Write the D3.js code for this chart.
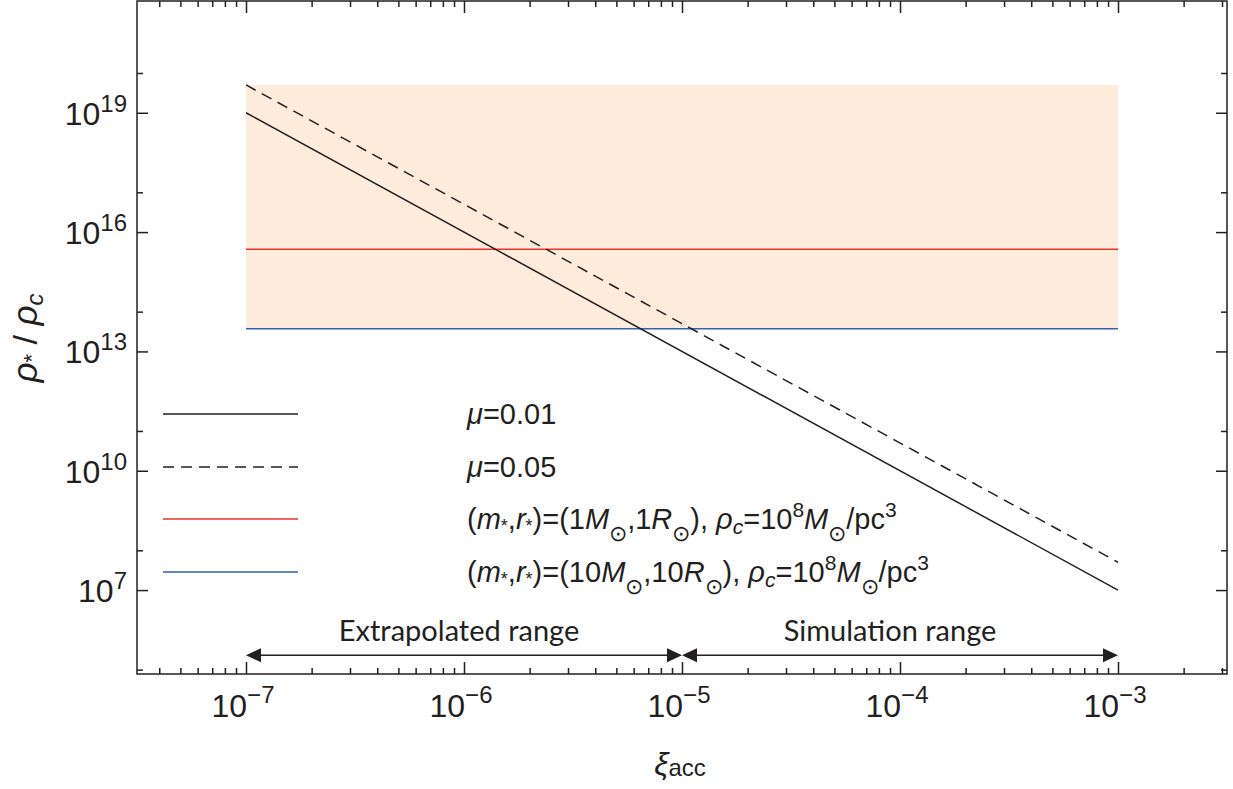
<!DOCTYPE html>
<html>
<head>
<meta charset="utf-8">
<script src="https://cdn.jsdelivr.net/npm/d3@7/dist/d3.min.js"></script>
<style>
  body { margin: 0; background: #fff; }
  svg { display: block; font-family: "Liberation Sans", Arial, sans-serif; }
</style>
</head>
<body>
<svg id="chart"></svg>
<script>
// ----------------------------------------- Data -----------------------------------------

// x ticks (exponents of 10)
var xMajorExp = [-7, -6, -5, -4, -3];
// y ticks (exponents of 10)
var yMajorExp = [7, 10, 13, 16, 19];
var yMinorExp = [5, 8, 11, 14, 17, 20];

// rho_* / rho_c against xi_acc, slope -3
var xiEnds = [1e-7, 1e-3];
var rhoMu001 = [1e19, 1e7];
var rhoMu005 = [5e19, 5e7];

// horizontal reference levels
var rhoSun = 3.7e15;     // (1 Msun, 1 Rsun)
var rhoTenSun = 3.7e13;  // (10 Msun, 10 Rsun)

// shaded band
var bandX = [1e-7, 1e-3];
var bandY = [3.7e13, 5e19];

// range arrows
var extrapRange = [1e-7, 1e-5];
var simRange = [1e-5, 1e-3];
var arrowLevel = 2.3e5;

// ----------------------------------------- Setup -----------------------------------------

var width = 1233;
var height = 789;
var padL = 137, padR = 1227, padT = 1, padB = 674;
var ink = '#231f20';

var svg = d3.select('#chart')
            .attr('width', width)
            .attr('height', height);

var xScale = d3.scaleLog()
               .domain([Math.pow(10, -7.5), Math.pow(10, -2.5)])
               .range([padL, padR]);

var yScale = d3.scaleLog()
               .domain([Math.pow(10, 4.89), Math.pow(10, 21.81)])
               .range([padB, padT]);

// ----------------------------------------- Shaded band -----------------------------------------

svg.append('rect')
    .attr('x', xScale(bandX[0]))
    .attr('y', yScale(bandY[1]))
    .attr('width', xScale(bandX[1]) - xScale(bandX[0]))
    .attr('height', yScale(bandY[0]) - yScale(bandY[1]))
    .attr('fill', '#fdecdc');

// ----------------------------------------- Lines -----------------------------------------

var line = d3.line()
             .x(d => xScale(d[0]))
             .y(d => yScale(d[1]));

svg.append('path')
    .datum([[bandX[0], rhoSun], [bandX[1], rhoSun]])
    .attr('d', line)
    .attr('fill', 'none')
    .attr('stroke', '#e8342c')
    .attr('stroke-width', 1.5);

svg.append('path')
    .datum([[bandX[0], rhoTenSun], [bandX[1], rhoTenSun]])
    .attr('d', line)
    .attr('fill', 'none')
    .attr('stroke', '#3461ad')
    .attr('stroke-width', 1.5);

svg.append('path')
    .datum(xiEnds.map((x, i) => [x, rhoMu001[i]]))
    .attr('d', line)
    .attr('fill', 'none')
    .attr('stroke', ink)
    .attr('stroke-width', 1.5);

svg.append('path')
    .datum(xiEnds.map((x, i) => [x, rhoMu005[i]]))
    .attr('d', line)
    .attr('fill', 'none')
    .attr('stroke', ink)
    .attr('stroke-width', 1.5)
    .attr('stroke-dasharray', '11,7');

// ----------------------------------------- Axes -----------------------------------------

var xMinor = [];
for (var e = -8; e <= -3; e++) {
  for (var k = 2; k <= 9; k++) {
    var v = k * Math.pow(10, e);
    if (v > xScale.domain()[0] && v < xScale.domain()[1]) xMinor.push(v);
  }
}
var xMajor = xMajorExp.map(e => Math.pow(10, e));
var yMajor = yMajorExp.map(e => Math.pow(10, e));
var yMinor = yMinorExp.map(e => Math.pow(10, e));

function addAxis(axis, tx, ty) {
  var g = svg.append('g')
     .attr('transform', `translate(${tx}, ${ty})`)
     .call(axis.tickFormat(''));
  g.select('.domain').remove();
  g.selectAll('line').attr('stroke', ink).attr('stroke-width', 1.5);
  return g;
}

addAxis(d3.axisBottom(xScale).tickValues(xMajor).tickSize(-12), 0, padB);
addAxis(d3.axisBottom(xScale).tickValues(xMinor).tickSize(-6), 0, padB);
addAxis(d3.axisTop(xScale).tickValues(xMajor).tickSize(-12), 0, padT);
addAxis(d3.axisTop(xScale).tickValues(xMinor).tickSize(-6), 0, padT);

addAxis(d3.axisLeft(yScale).tickValues(yMajor).tickSize(-11), padL, 0);
addAxis(d3.axisLeft(yScale).tickValues(yMinor).tickSize(-6), padL, 0);
addAxis(d3.axisLeft(yScale).tickValues(yMajor).tickSize(11), padR, 0);
addAxis(d3.axisLeft(yScale).tickValues(yMinor).tickSize(6), padR, 0);

// frame
svg.append('rect')
    .attr('x', padL)
    .attr('y', padT)
    .attr('width', padR - padL)
    .attr('height', padB - padT)
    .attr('fill', 'none')
    .attr('stroke', ink)
    .attr('stroke-width', 1.5);

// ----------------------------------------- Rich text helper -----------------------------------------

// parts: [text, italic, fontSize, shift]  (shift in px, positive = down)
function richText(parent, x, y, parts, anchor) {
  var t = parent.append('text')
      .attr('x', x)
      .attr('y', y)
      .attr('fill', ink)
      .attr('text-anchor', anchor || 'start');
  var cur = 0;
  parts.forEach(function(p) {
    var shift = p[3] || 0;
    t.append('tspan')
      .attr('dy', shift - cur)
      .attr('font-size', p[2])
      .attr('font-style', p[1] ? 'italic' : 'normal')
      .text(p[0]);
    cur = shift;
  });
  return t;
}

// tick labels
xMajorExp.forEach(function(e) {
  richText(svg, xScale(Math.pow(10, e)) - 3, 717,
    [['10', false, 32], ['\u2212' + Math.abs(e), false, 24, -14]], 'middle');
});

yMajorExp.forEach(function(e) {
  richText(svg, 127, yScale(Math.pow(10, e)) + 12,
    [['10', false, 32], [String(e), false, 24, -13]], 'end');
});

// axis titles
richText(svg, 680, 775,
  [['\u03be', true, 32], ['acc', false, 24, 1]], 'middle');

var yTitle = svg.append('g')
    .attr('transform', 'translate(37, 338) rotate(-90)');
richText(yTitle, 0, 0,
  [['\u03c1', true, 35], ['*', false, 22, 2], [' / ', false, 34, 0], ['\u03c1', true, 35], ['c', true, 24, 6]], 'middle');

// ----------------------------------------- Legend -----------------------------------------

var legendY = [414, 467, 519, 572];
var legendStyle = [
  { color: ink, dash: null },
  { color: ink, dash: '11,7' },
  { color: '#e8342c', dash: null },
  { color: '#3461ad', dash: null }
];

legendY.forEach(function(y, i) {
  svg.append('line')
      .attr('x1', 163).attr('x2', 298)
      .attr('y1', y).attr('y2', y)
      .attr('stroke', legendStyle[i].color)
      .attr('stroke-width', 1.5)
      .attr('stroke-dasharray', legendStyle[i].dash);
});

var fs = 29;
function starLabel(mass) {
  return [
    ['(', false, fs], ['m', true, fs], ['*', false, 18, 3], [',', false, fs], ['r', true, fs], ['*', false, 18, 3],
    [')=(' + mass, false, fs], ['M', true, fs], ['\u2299', false, 22, 12], [',' + mass, false, fs],
    ['R', true, fs], ['\u2299', false, 22, 12], ['), ', false, fs], ['\u03c1', true, fs], ['c', true, 21, 5],
    ['=10', false, fs], ['8', false, 21, -12], ['M', true, fs], ['\u2299', false, 22, 12], ['/pc', false, fs],
    ['3', false, 21, -12]
  ];
}

var legendText = [
  [['\u03bc', true, fs], ['=0.01', false, fs]],
  [['\u03bc', true, fs], ['=0.05', false, fs]],
  starLabel('1'),
  starLabel('10')
];

legendText.forEach(function(parts, i) {
  richText(svg, 467, legendY[i] + 10, parts);
});

// ----------------------------------------- Range arrows -----------------------------------------

var ay = yScale(arrowLevel);
var headLen = 15, headHalf = 7;

function rangeArrow(range, label, dx) {
  var x0 = xScale(range[0]), x1 = xScale(range[1]);
  svg.append('line')
      .attr('x1', x0 + headLen - 1).attr('x2', x1 - headLen + 1)
      .attr('y1', ay).attr('y2', ay)
      .attr('stroke', ink)
      .attr('stroke-width', 1.5);
  svg.append('path')
      .attr('d', `M${x0},${ay} L${x0 + headLen},${ay - headHalf} L${x0 + headLen},${ay + headHalf} Z`)
      .attr('fill', ink);
  svg.append('path')
      .attr('d', `M${x1},${ay} L${x1 - headLen},${ay - headHalf} L${x1 - headLen},${ay + headHalf} Z`)
      .attr('fill', ink);
  svg.append('text')
      .attr('x', (x0 + x1) / 2 + dx)
      .attr('y', ay - 14)
      .attr('text-anchor', 'middle')
      .attr('font-family', 'Lato, "Open Sans", sans-serif')
      .attr('font-size', 29)
      .attr('fill', ink)
      .text(label);
}

rangeArrow(extrapRange, 'Extrapolated range', -5);
rangeArrow(simRange, 'Simulation range', -10);
</script>
</body>
</html>
